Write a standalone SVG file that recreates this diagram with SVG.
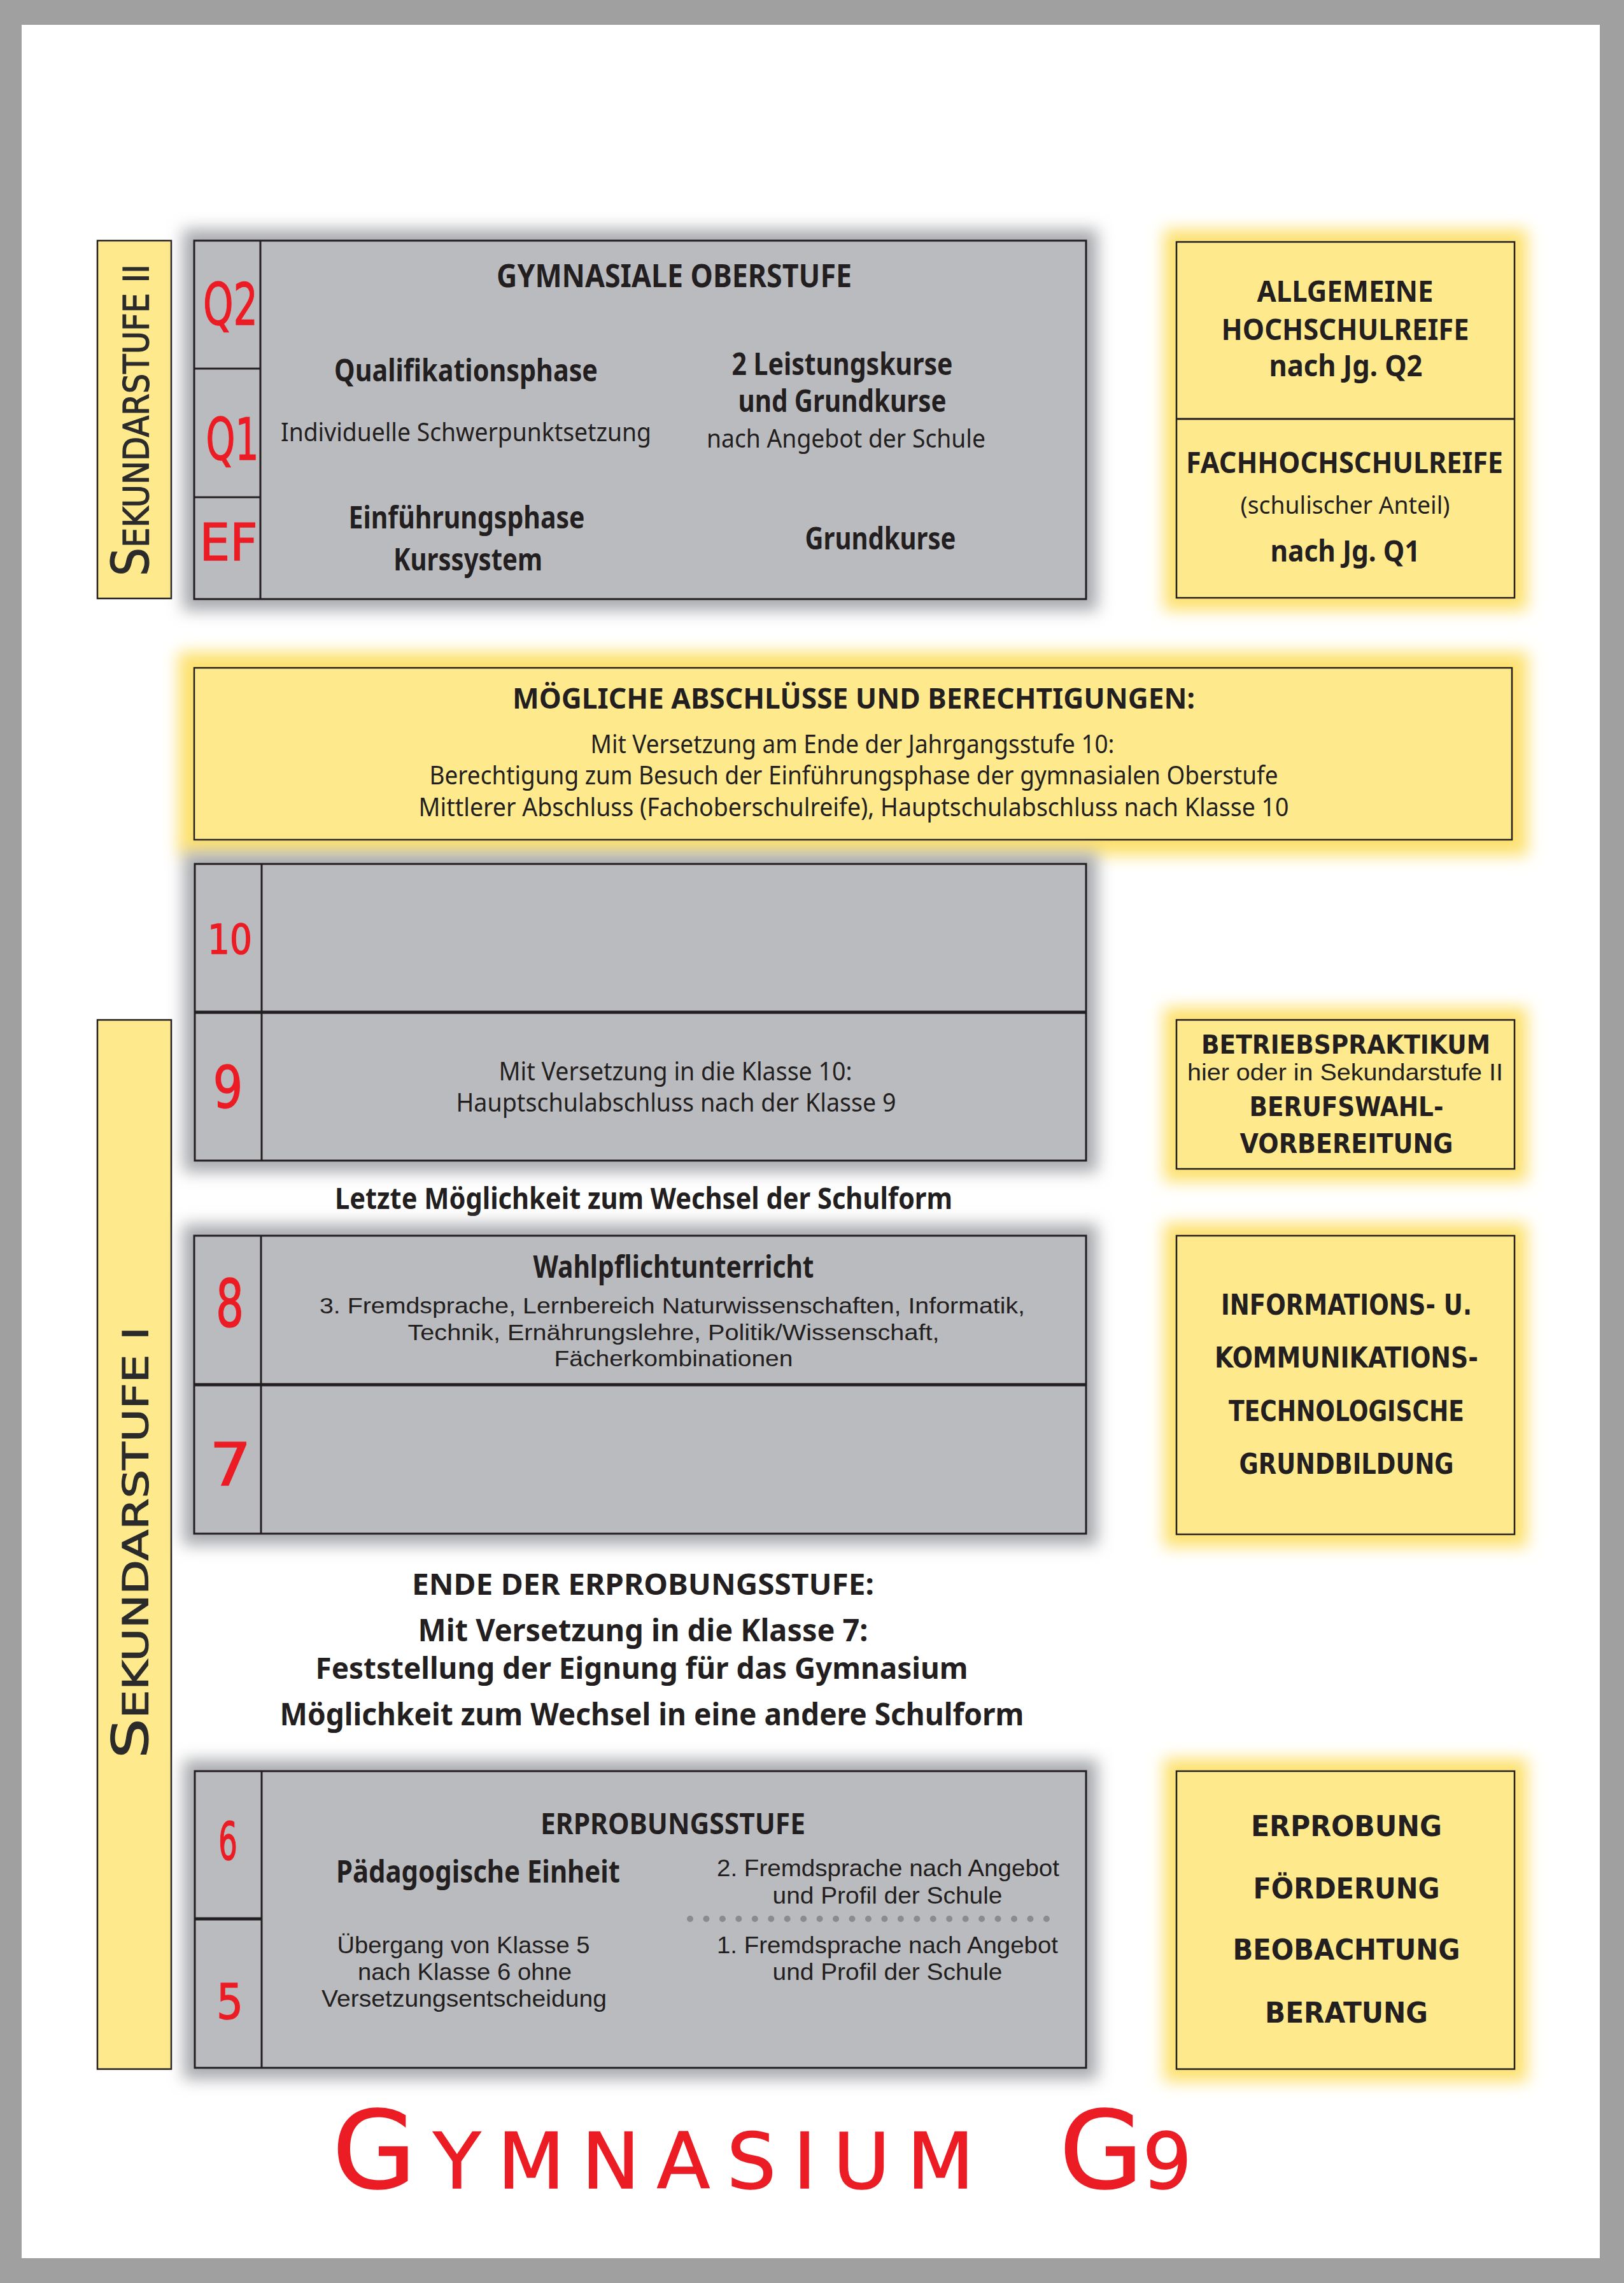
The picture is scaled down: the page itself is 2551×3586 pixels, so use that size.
<svg xmlns="http://www.w3.org/2000/svg" width="2551" height="3586" viewBox="0 0 2551 3586">
<defs>
<style>
.gbox{fill:#babbbf;stroke:#231f20;stroke-width:3}
.ybox{fill:#fee98c;stroke:#231f20;stroke-width:2.5}
.ln{stroke:#231f20;stroke-width:3;fill:none}
.ln5{stroke:#231f20;stroke-width:5;fill:none}
.gsh{fill:#a9aaae}
.ysh{fill:#fde170}
.t{font-family:"Noto Sans","Liberation Sans",sans-serif;fill:#231f20;text-anchor:middle}
.s{font-family:"Liberation Sans","Noto Sans",sans-serif;fill:#231f20;text-anchor:middle}
.b{font-weight:700}
.v{font-family:"DejaVu Sans","Liberation Sans",sans-serif;fill:#231f20;text-anchor:middle}
.red{font-family:"DejaVu Sans","Liberation Sans",sans-serif;fill:#ec1c24;text-anchor:middle;stroke:#ec1c24;stroke-width:1.5}
.hand{font-family:"DejaVu Sans","Liberation Sans",sans-serif;fill:#2b2b2b;text-anchor:middle;stroke:#2b2b2b;stroke-width:1.2}
</style>
<filter id="soft" x="-20%" y="-20%" width="140%" height="140%"><feGaussianBlur stdDeviation="12"/></filter>
</defs>

<rect x="0" y="0" width="2551" height="3586" fill="#a0a0a0"/>
<rect x="34" y="39" width="2479" height="3508" fill="#ffffff"/>

<g id="connectors"/>

<!-- Sekundarstufe II label -->
<g id="sek2">
<rect x="153" y="378" width="116" height="562" class="ybox"/>
<text class="hand" transform="translate(233,660) rotate(-90)" x="0" y="0" textLength="490" lengthAdjust="spacingAndGlyphs"><tspan font-size="80">S</tspan><tspan font-size="56">EKUNDARSTUFE II</tspan></text>
</g>

<!-- Gymnasiale Oberstufe -->
<g id="oberstufe">
<rect x="287" y="360" width="1437" height="599" class="gsh" filter="url(#soft)"/>
<rect x="305" y="378" width="1401" height="563" class="gbox"/>
<line x1="409" y1="378" x2="409" y2="941" class="ln"/>
<line x1="305" y1="579" x2="409" y2="579" class="ln"/>
<line x1="305" y1="781" x2="409" y2="781" class="ln"/>
<text class="red" x="362" y="510" font-size="90" textLength="86" lengthAdjust="spacingAndGlyphs">Q2</text>
<text class="red" x="365" y="722" font-size="90" textLength="83" lengthAdjust="spacingAndGlyphs">Q1</text>
<text class="red" x="359" y="880" font-size="80" textLength="91" lengthAdjust="spacingAndGlyphs">EF</text>
<text class="t b" x="1059" y="451" font-size="50" textLength="558" lengthAdjust="spacingAndGlyphs">GYMNASIALE OBERSTUFE</text>
<text class="t b" x="732" y="599" font-size="48" textLength="414" lengthAdjust="spacingAndGlyphs">Qualifikationsphase</text>
<text class="t" x="732" y="693" font-size="40" textLength="582" lengthAdjust="spacingAndGlyphs">Individuelle Schwerpunktsetzung</text>
<text class="t b" x="1323" y="589" font-size="48" textLength="347" lengthAdjust="spacingAndGlyphs">2 Leistungskurse</text>
<text class="t b" x="1323" y="647" font-size="48" textLength="327" lengthAdjust="spacingAndGlyphs">und Grundkurse</text>
<text class="t" x="1329" y="703" font-size="40" textLength="438" lengthAdjust="spacingAndGlyphs">nach Angebot der Schule</text>
<text class="t b" x="733" y="830" font-size="48" textLength="371" lengthAdjust="spacingAndGlyphs">Einführungsphase</text>
<text class="t b" x="735" y="896" font-size="48" textLength="234" lengthAdjust="spacingAndGlyphs">Kurssystem</text>
<text class="t b" x="1383" y="863" font-size="48" textLength="237" lengthAdjust="spacingAndGlyphs">Grundkurse</text>
</g>

<!-- Hochschulreife -->
<g id="hochschulreife">
<rect x="1828" y="360" width="571" height="599" class="ysh" filter="url(#soft)"/>
<rect x="1848" y="380" width="531" height="559" class="ybox"/>
<line x1="1848" y1="658" x2="2379" y2="658" class="ln"/>
<text class="t b" x="2113" y="474" font-size="47" textLength="277" lengthAdjust="spacingAndGlyphs">ALLGEMEINE</text>
<text class="t b" x="2113" y="534" font-size="47" textLength="389" lengthAdjust="spacingAndGlyphs">HOCHSCHULREIFE</text>
<text class="t b" x="2114" y="591" font-size="47" textLength="241" lengthAdjust="spacingAndGlyphs">nach Jg. Q2</text>
<text class="t b" x="2112" y="743" font-size="47" textLength="498" lengthAdjust="spacingAndGlyphs">FACHHOCHSCHULREIFE</text>
<text class="t" x="2113" y="807" font-size="38" textLength="329" lengthAdjust="spacingAndGlyphs">(schulischer Anteil)</text>
<text class="t b" x="2113" y="882" font-size="47" textLength="235" lengthAdjust="spacingAndGlyphs">nach Jg. Q1</text>
</g>

<!-- Mögliche Abschlüsse -->
<g id="abschluesse">
<rect x="280" y="1024" width="2120" height="320" class="ysh" filter="url(#soft)"/>
<rect x="305" y="1049" width="2070" height="270" class="ybox"/>
<text class="t b" x="1341" y="1113" font-size="44" textLength="1072" lengthAdjust="spacingAndGlyphs">MÖGLICHE ABSCHLÜSSE UND BERECHTIGUNGEN:</text>
<text class="t" x="1339" y="1183" font-size="40" textLength="823" lengthAdjust="spacingAndGlyphs">Mit Versetzung am Ende der Jahrgangsstufe 10:</text>
<text class="t" x="1341" y="1232" font-size="40" textLength="1333" lengthAdjust="spacingAndGlyphs">Berechtigung zum Besuch der Einführungsphase der gymnasialen Oberstufe</text>
<text class="t" x="1341" y="1282" font-size="40" textLength="1367" lengthAdjust="spacingAndGlyphs">Mittlerer Abschluss (Fachoberschulreife), Hauptschulabschluss nach Klasse 10</text>
</g>

<!-- Klassen 10 / 9 -->
<g id="klasse10-9">
<rect x="288" y="1339" width="1436" height="502" class="gsh" filter="url(#soft)"/>
<rect x="306" y="1357" width="1400" height="466" class="gbox"/>
<line x1="411" y1="1357" x2="411" y2="1823" class="ln"/>
<line x1="306" y1="1590" x2="1706" y2="1590" class="ln5"/>
<text class="red" x="361" y="1498" font-size="64" textLength="70" lengthAdjust="spacingAndGlyphs">10</text>
<text class="red" x="358" y="1740" font-size="90" textLength="47" lengthAdjust="spacingAndGlyphs">9</text>
<text class="t" x="1061" y="1697" font-size="40" textLength="555" lengthAdjust="spacingAndGlyphs">Mit Versetzung in die Klasse 10:</text>
<text class="t" x="1062" y="1746" font-size="40" textLength="691" lengthAdjust="spacingAndGlyphs">Hauptschulabschluss nach der Klasse 9</text>
</g>

<!-- Sekundarstufe I label -->
<g id="sek1">
<rect x="153" y="1602" width="116" height="1648" class="ybox"/>
<text class="hand" transform="translate(232,2423) rotate(-90)" x="0" y="0" textLength="678" lengthAdjust="spacingAndGlyphs"><tspan font-size="78">S</tspan><tspan font-size="56">EKUNDARSTUFE I</tspan></text>
</g>

<!-- Betriebspraktikum -->
<g id="betriebspraktikum">
<rect x="1828" y="1582" width="571" height="274" class="ysh" filter="url(#soft)"/>
<rect x="1848" y="1602" width="531" height="234" class="ybox"/>
<text class="v b" x="2114" y="1655" font-size="40" textLength="454" lengthAdjust="spacingAndGlyphs">BETRIEBSPRAKTIKUM</text>
<text class="s" x="2113" y="1697" font-size="36" textLength="496" lengthAdjust="spacingAndGlyphs">hier oder in Sekundarstufe II</text>
<text class="v b" x="2115" y="1753" font-size="42" textLength="305" lengthAdjust="spacingAndGlyphs">BERUFSWAHL-</text>
<text class="v b" x="2115" y="1811" font-size="42" textLength="335" lengthAdjust="spacingAndGlyphs">VORBEREITUNG</text>
</g>

<!-- Letzte Möglichkeit -->
<g id="letzte-moeglichkeit">
<text class="t b" x="1011" y="1899" font-size="46" textLength="970" lengthAdjust="spacingAndGlyphs">Letzte Möglichkeit zum Wechsel der Schulform</text>
</g>

<!-- Klassen 8 / 7 -->
<g id="klasse8-7">
<rect x="287" y="1923" width="1437" height="504" class="gsh" filter="url(#soft)"/>
<rect x="305" y="1941" width="1401" height="468" class="gbox"/>
<line x1="410" y1="1941" x2="410" y2="2409" class="ln"/>
<line x1="305" y1="2175" x2="1706" y2="2175" class="ln5"/>
<text class="red" x="361" y="2084" font-size="104" textLength="44" lengthAdjust="spacingAndGlyphs">8</text>
<text class="red" x="362" y="2333" font-size="93" textLength="66" lengthAdjust="spacingAndGlyphs">7</text>
<text class="t b" x="1058" y="2007" font-size="48" textLength="441" lengthAdjust="spacingAndGlyphs">Wahlpflichtunterricht</text>
<text class="s" x="1056" y="2063" font-size="35" textLength="1108" lengthAdjust="spacingAndGlyphs">3. Fremdsprache, Lernbereich Naturwissenschaften, Informatik,</text>
<text class="s" x="1058" y="2105" font-size="35" textLength="835" lengthAdjust="spacingAndGlyphs">Technik, Ernährungslehre, Politik/Wissenschaft,</text>
<text class="s" x="1058" y="2146" font-size="35" textLength="375" lengthAdjust="spacingAndGlyphs">Fächerkombinationen</text>
</g>

<!-- IKG -->
<g id="ikg">
<rect x="1828" y="1921" width="571" height="509" class="ysh" filter="url(#soft)"/>
<rect x="1848" y="1941" width="531" height="469" class="ybox"/>
<text class="v b" x="2115" y="2065" font-size="44" textLength="394" lengthAdjust="spacingAndGlyphs">INFORMATIONS- U.</text>
<text class="v b" x="2115" y="2148" font-size="44" textLength="414" lengthAdjust="spacingAndGlyphs">KOMMUNIKATIONS-</text>
<text class="v b" x="2115" y="2232" font-size="44" textLength="370" lengthAdjust="spacingAndGlyphs">TECHNOLOGISCHE</text>
<text class="v b" x="2115" y="2315" font-size="44" textLength="337" lengthAdjust="spacingAndGlyphs">GRUNDBILDUNG</text>
</g>

<!-- Ende der Erprobungsstufe -->
<g id="ende-erprobungsstufe">
<text class="t b" x="1010" y="2505" font-size="46" textLength="726" lengthAdjust="spacingAndGlyphs">ENDE DER ERPROBUNGSSTUFE:</text>
<text class="t b" x="1010" y="2578" font-size="48" textLength="707" lengthAdjust="spacingAndGlyphs">Mit Versetzung in die Klasse 7:</text>
<text class="t b" x="1008" y="2637" font-size="46" textLength="1025" lengthAdjust="spacingAndGlyphs">Feststellung der Eignung für das Gymnasium</text>
<text class="t b" x="1024" y="2710" font-size="48" textLength="1169" lengthAdjust="spacingAndGlyphs">Möglichkeit zum Wechsel in eine andere Schulform</text>
</g>

<!-- Klassen 6 / 5 -->
<g id="klasse6-5">
<rect x="288" y="2764" width="1436" height="502" class="gsh" filter="url(#soft)"/>
<rect x="306" y="2782" width="1400" height="466" class="gbox"/>
<line x1="411" y1="2782" x2="411" y2="3248" class="ln"/>
<line x1="306" y1="3014" x2="411" y2="3014" class="ln5"/>
<text class="red" x="358" y="2921" font-size="82" textLength="30" lengthAdjust="spacingAndGlyphs">6</text>
<text class="red" x="361" y="3171" font-size="77" textLength="42" lengthAdjust="spacingAndGlyphs">5</text>
<text class="t b" x="1057" y="2881" font-size="46" textLength="416" lengthAdjust="spacingAndGlyphs">ERPROBUNGSSTUFE</text>
<text class="t b" x="751" y="2957" font-size="48" textLength="446" lengthAdjust="spacingAndGlyphs">Pädagogische Einheit</text>
<text class="s" x="1395" y="2947" font-size="36" textLength="538" lengthAdjust="spacingAndGlyphs">2. Fremdsprache nach Angebot</text>
<text class="s" x="1394" y="2990" font-size="36" textLength="361" lengthAdjust="spacingAndGlyphs">und Profil der Schule</text>
<line x1="1084" y1="3014" x2="1644" y2="3014" stroke="#8b8b8f" stroke-width="10" stroke-linecap="round" stroke-dasharray="0 25.45"/>
<text class="s" x="1394" y="3068" font-size="36" textLength="536" lengthAdjust="spacingAndGlyphs">1. Fremdsprache nach Angebot</text>
<text class="s" x="1394" y="3110" font-size="36" textLength="361" lengthAdjust="spacingAndGlyphs">und Profil der Schule</text>
<text class="s" x="728" y="3068" font-size="36" textLength="397" lengthAdjust="spacingAndGlyphs">Übergang von Klasse 5</text>
<text class="s" x="730" y="3110" font-size="36" textLength="336" lengthAdjust="spacingAndGlyphs">nach Klasse 6 ohne</text>
<text class="s" x="729" y="3152" font-size="36" textLength="448" lengthAdjust="spacingAndGlyphs">Versetzungsentscheidung</text>
</g>

<!-- Erprobung box -->
<g id="erprobung">
<rect x="1828" y="2762" width="571" height="508" class="ysh" filter="url(#soft)"/>
<rect x="1848" y="2782" width="531" height="468" class="ybox"/>
<text class="v b" x="2115" y="2884" font-size="44" textLength="300" lengthAdjust="spacingAndGlyphs">ERPROBUNG</text>
<text class="v b" x="2115" y="2982" font-size="44" textLength="293" lengthAdjust="spacingAndGlyphs">FÖRDERUNG</text>
<text class="v b" x="2115" y="3078" font-size="44" textLength="357" lengthAdjust="spacingAndGlyphs">BEOBACHTUNG</text>
<text class="v b" x="2115" y="3177" font-size="44" textLength="256" lengthAdjust="spacingAndGlyphs">BERATUNG</text>
</g>

<!-- Title -->
<g id="title">
<text class="red" x="1026" y="3437" textLength="1008" lengthAdjust="spacing" stroke-width="2"><tspan font-size="170">G</tspan><tspan font-size="122">YMNASIUM</tspan></text>
<text class="red" x="1768" y="3437" textLength="208" lengthAdjust="spacing" stroke-width="2"><tspan font-size="170">G</tspan><tspan font-size="122">9</tspan></text>
</g>
</svg>
